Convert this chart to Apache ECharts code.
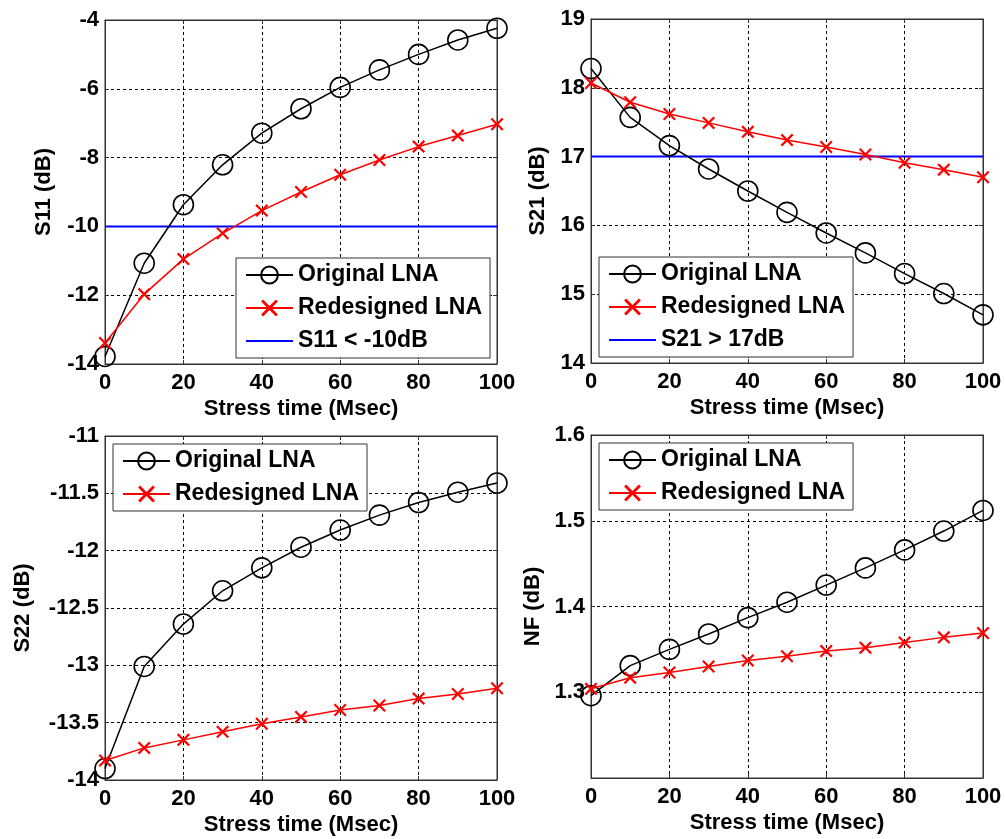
<!DOCTYPE html>
<html>
<head>
<meta charset="utf-8">
<script src="https://cdn.jsdelivr.net/npm/echarts@6/dist/echarts.min.js"></script>
<style>
  html, body { margin: 0; padding: 0; background: #fff; }
  #chart { width: 1005px; height: 839px; }
</style>
</head>
<body>
<div id="chart"></div>
<script>
// Stress time axis (Msec)
const stressTime = [0, 10, 20, 30, 40, 50, 60, 70, 80, 90, 100];

// S11 (dB)
const s11Original   = [-13.78, -11.07, -9.37, -8.21, -7.29, -6.58, -5.96, -5.45, -5.00, -4.58, -4.24];
const s11Redesigned = [-13.39, -11.97, -10.95, -10.20, -9.54, -9.00, -8.50, -8.07, -7.68, -7.36, -7.03];
const s11Limit = -10;

// S21 (dB)
const s21Original   = [18.28, 17.57, 17.16, 16.82, 16.50, 16.19, 15.89, 15.60, 15.30, 15.01, 14.70];
const s21Redesigned = [18.07, 17.79, 17.62, 17.49, 17.36, 17.24, 17.14, 17.03, 16.91, 16.81, 16.70];
const s21Limit = 17;

// S22 (dB)
const s22Original   = [-13.90, -13.01, -12.64, -12.35, -12.15, -11.97, -11.82, -11.69, -11.58, -11.49, -11.41];
const s22Redesigned = [-13.83, -13.72, -13.65, -13.58, -13.51, -13.45, -13.39, -13.35, -13.29, -13.25, -13.20];

// NF (dB)
const nfOriginal   = [1.296, 1.331, 1.350, 1.368, 1.387, 1.405, 1.425, 1.445, 1.466, 1.488, 1.512];
const nfRedesigned = [1.304, 1.317, 1.323, 1.330, 1.337, 1.342, 1.348, 1.352, 1.358, 1.364, 1.369];

const FONT = '"Liberation Sans", Arial, sans-serif';
const XMARK = 'path://M0,1.2L1.2,0L5,3.8L8.8,0L10,1.2L6.2,5L10,8.8L8.8,10L5,6.2L1.2,10L0,8.8L3.8,5Z';

const pts = ys => stressTime.map((x, i) => [x, ys[i]]);

const grids = [
  { left: 105, top: 20,  width: 392, height: 344 },
  { left: 591, top: 19,  width: 392, height: 344 },
  { left: 105, top: 436, width: 392, height: 344 },
  { left: 591, top: 435, width: 392, height: 343 }
].map(g => Object.assign(g, { show: true, borderColor: '#333', borderWidth: 1, backgroundColor: '#fff' }));

const gridLine = { show: true, lineStyle: { color: '#000', width: 1, type: [3, 3] } };
const axisText = { color: '#000', fontFamily: FONT, fontWeight: 'bold', fontSize: 22 };
const nameText = { color: '#000', fontFamily: FONT, fontWeight: 'bold', fontSize: 22 };
const boxLine = { show: true, onZero: false, lineStyle: { color: '#333', width: 1 } };
const inTick = { show: true, inside: true, length: 4, lineStyle: { color: '#333' } };

const xAxes = [];
const yAxes = [];
[0, 1, 2, 3].forEach(i => {
  xAxes.push({
    type: 'value', gridIndex: i, min: 0, max: 100, interval: 20, position: 'bottom',
    name: 'Stress time (Msec)', nameLocation: 'middle', nameGap: 34, nameTextStyle: nameText,
    axisLine: boxLine, axisTick: inTick,
    axisLabel: Object.assign({ margin: 8 }, axisText),
    splitLine: gridLine
  });
});
// top edge ticks of each box
[0, 1, 2, 3].forEach(i => {
  xAxes.push({
    type: 'value', gridIndex: i, min: 0, max: 100, interval: 20, position: 'top',
    axisLine: boxLine, axisTick: inTick, axisLabel: { show: false }, splitLine: { show: false }
  });
});

const yDefs = [
  { name: 'S11 (dB)', min: -14, max: -4, interval: 2, gap: 50, fmt: v => String(v) },
  { name: 'S21 (dB)', min: 14, max: 19, interval: 1, gap: 42, fmt: v => String(v) },
  { name: 'S22 (dB)', min: -14, max: -11, interval: 0.5, gap: 71, fmt: v => String(v) },
  { name: 'NF (dB)', min: 1.2, max: 1.6, interval: 0.1, gap: 47,
    fmt: v => Math.abs(v - 1.2) < 1e-9 ? '' : v.toFixed(1) }
];
yDefs.forEach((d, i) => {
  yAxes.push({
    type: 'value', gridIndex: i, min: d.min, max: d.max, interval: d.interval, position: 'left',
    name: d.name, nameLocation: 'middle', nameGap: d.gap, nameTextStyle: nameText,
    axisLine: boxLine, axisTick: inTick,
    axisLabel: Object.assign({ margin: 6, formatter: d.fmt }, axisText),
    splitLine: gridLine
  });
});
// right edge ticks of each box
yDefs.forEach((d, i) => {
  yAxes.push({
    type: 'value', gridIndex: i, min: d.min, max: d.max, interval: d.interval, position: 'right',
    axisLine: boxLine, axisTick: inTick, axisLabel: { show: false }, splitLine: { show: false }
  });
});

const original = (i, ys) => ({
  name: 'Original LNA', type: 'line', xAxisIndex: i, yAxisIndex: i, data: pts(ys),
  symbol: 'circle', symbolSize: 20, showAllSymbol: true, clip: false,
  lineStyle: { color: '#000', width: 1.5 },
  itemStyle: { color: 'rgba(255,255,255,0)', borderColor: '#000', borderWidth: 1.6 },
  z: 3
});
const redesigned = (i, ys) => ({
  name: 'Redesigned LNA', type: 'line', xAxisIndex: i, yAxisIndex: i, data: pts(ys),
  symbol: XMARK, symbolSize: 13, showAllSymbol: true, clip: false,
  lineStyle: { color: '#ff0000', width: 1.5 },
  itemStyle: { color: '#ff0000' },
  z: 4
});
const limit = (i, name, y) => ({
  name, type: 'line', xAxisIndex: i, yAxisIndex: i,
  data: [[0, y], [100, y]], symbol: 'none', showSymbol: false,
  lineStyle: { color: '#0000ff', width: 2 }, itemStyle: { color: '#0000ff' },
  z: 2
});

const legendBase = (left, top, names) => ({
  left, top, orient: 'vertical',
  data: names.map(n => (n.indexOf('dB') >= 0 ? { name: n, itemStyle: { opacity: 0 } } : n)),
  backgroundColor: '#fff', borderColor: '#333', borderWidth: 1,
  padding: [5, 8, 5, 9], itemGap: 9, itemWidth: 47, itemHeight: 21,
  selectedMode: false,
  textStyle: { color: '#000', fontFamily: FONT, fontWeight: 'bold', fontSize: 23, lineHeight: 24 }
});

const option = {
  animation: false,
  backgroundColor: '#fff',
  grid: grids,
  xAxis: xAxes,
  yAxis: yAxes,
  legend: [
    legendBase(236, 258, ['Original LNA', 'Redesigned LNA', 'S11 < -10dB']),
    legendBase(599, 257, ['Original LNA', 'Redesigned LNA', 'S21 > 17dB']),
    legendBase(113, 444, ['Original LNA', 'Redesigned LNA']),
    legendBase(599, 443, ['Original LNA', 'Redesigned LNA'])
  ],
  series: [
    limit(0, 'S11 < -10dB', s11Limit),
    original(0, s11Original),
    redesigned(0, s11Redesigned),
    limit(1, 'S21 > 17dB', s21Limit),
    original(1, s21Original),
    redesigned(1, s21Redesigned),
    original(2, s22Original),
    redesigned(2, s22Redesigned),
    original(3, nfOriginal),
    redesigned(3, nfRedesigned)
  ]
};

const chart = echarts.init(document.getElementById('chart'), null, { renderer: 'canvas' });
chart.setOption(option);
</script>
</body>
</html>
